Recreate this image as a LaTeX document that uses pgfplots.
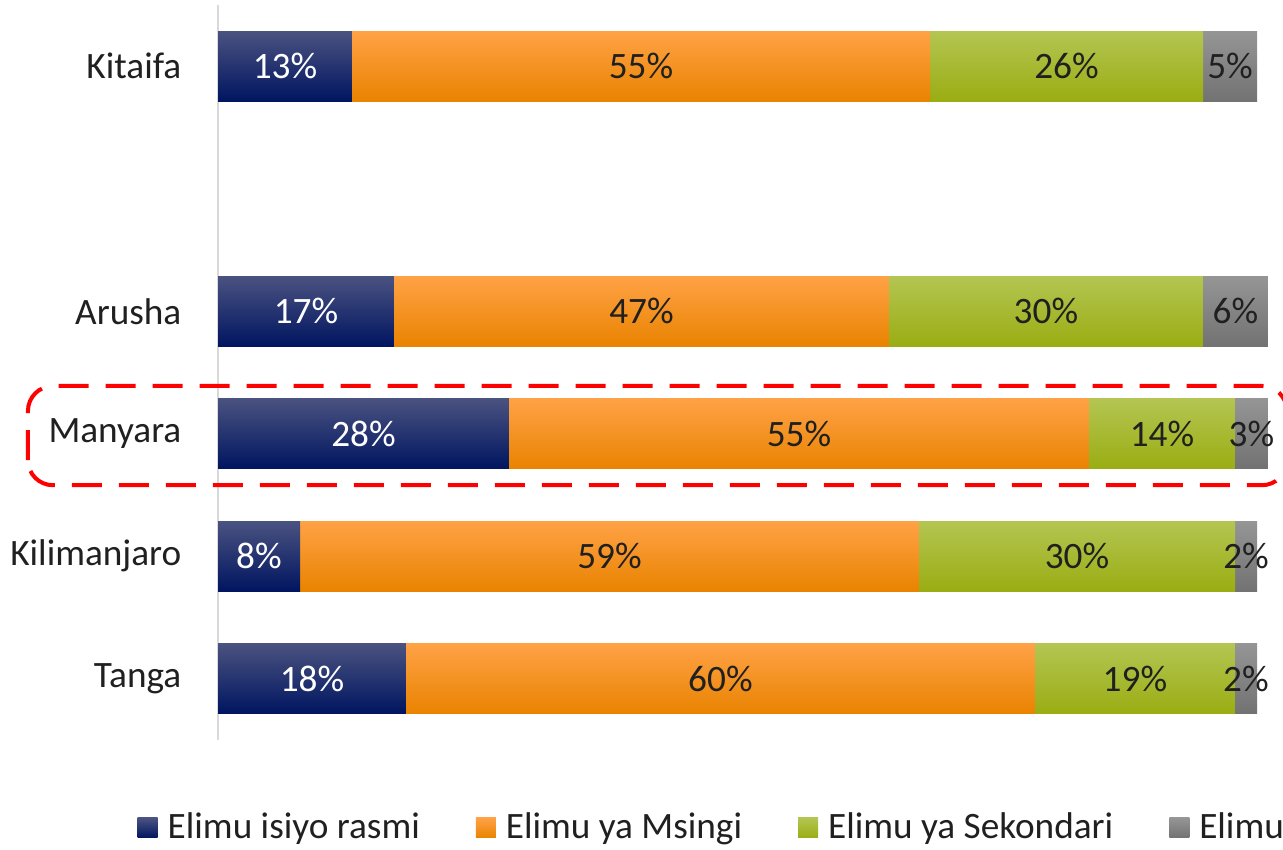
\documentclass[border=0pt]{standalone}
\usepackage{pgfplots}
\pgfplotsset{compat=1.18}
\usepackage{pgfplotstable}
\usepackage{fontspec}
\setmainfont{Carlito}
\usetikzlibrary{calc}

\definecolor{navyT}{HTML}{4A5280}
\definecolor{navyM}{HTML}{0A1E62}
\definecolor{navyB}{HTML}{001560}
\definecolor{oraT}{HTML}{FFA246}
\definecolor{oraM}{HTML}{FF9200}
\definecolor{oraB}{HTML}{E98300}
\definecolor{grnT}{HTML}{B4C552}
\definecolor{grnM}{HTML}{A7BC22}
\definecolor{grnB}{HTML}{9AAD12}
\definecolor{gryT}{HTML}{959595}
\definecolor{gryM}{HTML}{858585}
\definecolor{gryB}{HTML}{727272}
\definecolor{txt}{HTML}{202020}
\definecolor{axgray}{HTML}{D9D9D9}

\newcommand\fs{\fontsize{10.6}{12.5}\selectfont}

% shares (%) per region: y position, then the four education levels
\pgfplotstableread{
y isiyo msingi sekondari juu
0 17.9 59.9 19.05 2.1
1 7.81 58.95 30.1 2.1
2 27.71 55.24 13.9 3.14
3 16.76 47.14 29.9 6.19
5 12.76 55.05 26.0 5.14
}\datatable

\pgfplotsset{
  seg/.style={xbar, bar shift=0pt, bar width=7mm, draw=none, forget plot},
  lbl/.style={forget plot, draw=none, mark=none, point meta=explicit,
    nodes near coords={\pgfmathprintnumber[fixed,precision=0]{\pgfplotspointmeta}\%},
    nodes near coords align={center},
    every node near coord/.append style={font=\fs, text=txt, anchor=center, inner sep=0pt}},
}

\begin{document}
\begin{tikzpicture}
\begin{axis}[
  scale only axis,
  width=105mm, height=73.5mm,
  xmin=0, xmax=100, ymin=-0.5, ymax=5.5,
  axis x line=none,
  axis y line*=left,
  axis line style={-, draw=axgray, line width=0.2mm},
  ytick={0,1,2,3,5},
  yticklabels={Tanga,Kilimanjaro,Manyara,Arusha,Kitaifa},
  major tick length=0,
  yticklabel style={font=\fs, text=txt, inner sep=0pt, xshift=-3.6mm},
  clip=false,
  /pgf/number format/assume math mode=true,
  legend columns=4,
  legend image code/.code={\path[#1, draw=none] (0mm,-1mm) rectangle (2mm,1mm);},
  legend style={draw=none, fill=none, at={(-0.0771,-0.1197)}, anchor=west,
     font=\fs, text=txt, inner sep=0pt, nodes={inner xsep=1mm, inner ysep=0.5mm},
     /tikz/every even column/.append style={column sep=4.6mm}},
]
\pgfplotsinvokeforeach{-0.1:0.1, 0.9:1.1, 1.9:2.1, 2.9:3.1, 4.9:5.1}{
  \addplot[seg, top color=gryT, middle color=gryM, bottom color=gryB,
    restrict y to domain=#1]
    table[x expr=\thisrow{isiyo}+\thisrow{msingi}+\thisrow{sekondari}+\thisrow{juu}, y=y] {\datatable};
  \addplot[seg, top color=grnT, middle color=grnM, bottom color=grnB,
    restrict y to domain=#1]
    table[x expr=\thisrow{isiyo}+\thisrow{msingi}+\thisrow{sekondari}, y=y] {\datatable};
  \addplot[seg, top color=oraT, middle color=oraM, bottom color=oraB,
    restrict y to domain=#1]
    table[x expr=\thisrow{isiyo}+\thisrow{msingi}, y=y] {\datatable};
  \addplot[seg, top color=navyT, middle color=navyM, bottom color=navyB,
    restrict y to domain=#1]
    table[x=isiyo, y=y] {\datatable};
}
% value labels, centred in each segment
\addplot[lbl, every node near coord/.append style={text=white}]
  table[x expr=\thisrow{isiyo}/2, y=y, meta=isiyo] {\datatable};
\addplot[lbl] table[x expr=\thisrow{isiyo}+\thisrow{msingi}/2, y=y, meta=msingi] {\datatable};
\addplot[lbl] table[x expr=\thisrow{isiyo}+\thisrow{msingi}+\thisrow{sekondari}/2, y=y, meta=sekondari] {\datatable};
\addplot[lbl] table[x expr=\thisrow{isiyo}+\thisrow{msingi}+\thisrow{sekondari}+\thisrow{juu}/2, y=y, meta=juu] {\datatable};

\addlegendimage{top color=navyT, middle color=navyM, bottom color=navyB}
\addlegendentry{Elimu isiyo rasmi}
\addlegendimage{top color=oraT, middle color=oraM, bottom color=oraB}
\addlegendentry{Elimu ya Msingi}
\addlegendimage{top color=grnT, middle color=grnM, bottom color=grnB}
\addlegendentry{Elimu ya Sekondari}
\addlegendimage{top color=gryT, middle color=gryM, bottom color=gryB}
\addlegendentry{Elimu ya Juu}

\draw[red, line width=0.4mm, dash pattern=on 3mm off 1.7mm, rounded corners=2.5mm]
  (axis cs:-18.1,1.58) rectangle (axis cs:101.8,2.39);
\end{axis}
\pgfresetboundingbox
\path[use as bounding box] ($(current axis.south west)+(-21.8mm,-10.9mm)$) rectangle ($(current axis.north east)+(1.5mm,0.5mm)$);
\end{tikzpicture}
\end{document}
